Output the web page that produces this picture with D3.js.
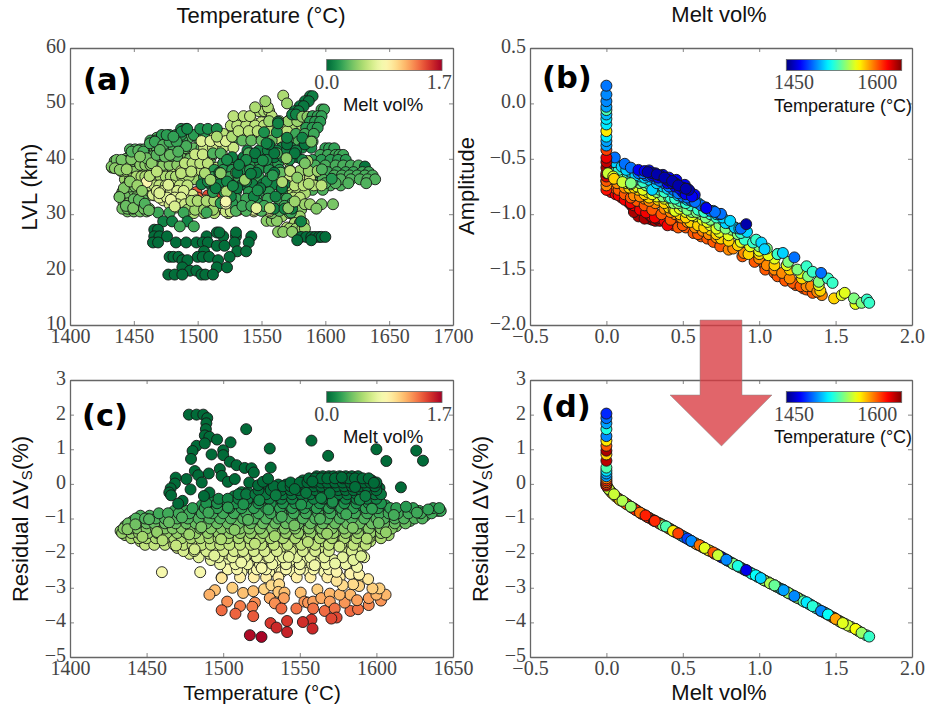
<!DOCTYPE html>
<html>
<head>
<meta charset="utf-8">
<script src="https://cdn.jsdelivr.net/npm/d3@7"></script>
<style>
  html, body { margin: 0; padding: 0; background: #fff; }
  svg { display: block; }
</style>
</head>
<body>
<div id="chart"></div>
<script>
// Panel (a): [melt, LVL, temperatures read along that level]
const lvlRedRows = [
  [1.3, 36.2, [1490]], [1.45, 34, [1499]], [1.5, 33.4, [1508, 1514]], [1.4, 33, [1500]], [1.35, 31, [1518]], [1.6, 30.8, [1532]]
];
const lvlFillRows = [
  [.42, 41, [1452, 1456, 1460, 1467, 1471, 1476, 1482, 1487, 1493, 1499, 1505]],
  [.35, 41.9, [1462, 1468, 1476, 1483, 1490, 1497, 1503, 1511]],
  [.3, 43.8, [1468, 1475, 1481, 1493, 1500, 1510, 1520, 1530]],
  [.38, 40, [1444, 1448, 1456, 1462, 1470, 1477, 1482, 1488, 1494, 1502, 1510]],
  [.45, 39.2, [1445, 1449, 1457, 1464, 1470, 1476, 1481, 1487]],
  [.5, 36.3, [1443, 1447, 1450, 1458, 1464, 1469, 1474, 1482, 1490, 1498]],
  [.42, 34, [1441, 1446, 1450, 1455, 1459, 1463]],
  [.4, 33.4, [1447, 1453, 1458, 1461, 1466, 1472]],
  [.38, 30.5, [1445, 1450, 1455, 1460]],
  [.7, 33.5, [1465, 1471, 1477, 1483, 1490, 1496]],
  [.75, 32.5, [1473, 1480, 1486, 1492, 1499, 1506]],
  [.6, 31.2, [1483, 1488, 1495, 1502, 1508, 1516]],
  [.55, 30.2, [1490, 1497, 1505, 1513, 1524]],
  [.6, 38.4, [1480, 1495, 1505, 1515]],
  [.65, 42, [1505, 1512, 1520, 1528]],
  [.6, 44.5, [1510, 1520, 1528, 1540, 1550]],
  [.62, 46.6, [1533, 1543, 1550, 1560]],
  [.55, 48.6, [1548, 1552, 1556]],
  [.6, 43.7, [1542, 1552, 1562, 1572]],
  [.55, 45.8, [1560, 1568, 1574, 1582]],
  [.5, 47, [1572, 1580]],
  [.25, 36.8, [1590, 1596, 1603, 1610]],
  [.3, 35.2, [1592, 1604, 1612]],
  [.3, 34.4, [1590, 1598]],
  [.55, 33.8, [1572, 1578, 1584]],
  [.6, 33, [1575, 1580]],
  [.45, 30.8, [1577, 1581]],
  [.5, 29.6, [1560, 1566, 1576, 1580]],
  [.6, 27.6, [1570, 1575, 1580]]
];
const lvlRows = [
  [.5, 37.8, [1440, 1444, 1448, 1452, 1456, 1460, 1464, 1468, 1472]],
  [.45, 38.4, [1433, 1436, 1441, 1446, 1451]],
  [.4, 39.6, [1435, 1438, 1441, 1444, 1447, 1450, 1453]],
  [.45, 38.9, [1455, 1459, 1463, 1467, 1473, 1478, 1484]],
  [.3, 41.7, [1447, 1451, 1455, 1458]],
  [.32, 40.5, [1461, 1465, 1469, 1473, 1479, 1484]],
  [.25, 43.3, [1463, 1467, 1472, 1478, 1483, 1488]],
  [.28, 42.3, [1470, 1475, 1481, 1486, 1491]],
  [.2, 44.3, [1472, 1478, 1483, 1487, 1497, 1505]],
  [.15, 45.4, [1487, 1491, 1502, 1508, 1515]],
  [.38, 33.2, [1439, 1443]],
  [.4, 35, [1444, 1447, 1451]],
  [.42, 32, [1442, 1446, 1451, 1456]],
  [.38, 31, [1441, 1445, 1449, 1458, 1462]],
  [.35, 32.7, [1450, 1457]],
  [.55, 36.8, [1452, 1456, 1459, 1463, 1467, 1471, 1475, 1479, 1483, 1488, 1493]],
  [.62, 35.2, [1462, 1466, 1470, 1475, 1480, 1486, 1492]],
  [.7, 34.2, [1468, 1473, 1479, 1484, 1489]],
  [.72, 33, [1470, 1476, 1482, 1487]],
  [.65, 31.8, [1478, 1484, 1490]],
  [.5, 30.8, [1492, 1498, 1505, 1512]],
  [.55, 32.4, [1495, 1500, 1507, 1513, 1520]],
  [.9, 35.8, [1460]],
  [.6, 37.8, [1487, 1492, 1497, 1503, 1510]],
  [.6, 39.2, [1490, 1496, 1502, 1508]],
  [.65, 40.8, [1498, 1504, 1512, 1519]],
  [.72, 43.2, [1503, 1510, 1517, 1522]],
  [.55, 44, [1515, 1527, 1535]],
  [.6, 46, [1526, 1531, 1538, 1545, 1552]],
  [.6, 47.7, [1528, 1536, 1541, 1558]],
  [.55, 49.3, [1545, 1555]],
  [.5, 50.4, [1553]],
  [.6, 45, [1532, 1540, 1547, 1556, 1563, 1570]],
  [.5, 46.8, [1556, 1564, 1571, 1578]],
  [.55, 51.4, [1567]],
  [.5, 50, [1570]],
  [.08, 51.3, [1588, 1590]],
  [.05, 50.4, [1584, 1587]],
  [.06, 49.5, [1580, 1583]],
  [.08, 48.6, [1576, 1579]],
  [.1, 48, [1574, 1577]],
  [.45, 47.6, [1582, 1586, 1590]],
  [.25, 48.9, [1597, 1599]],
  [.22, 47.7, [1590, 1594, 1597]],
  [.2, 46.7, [1588, 1592, 1596]],
  [.2, 45.6, [1585, 1590, 1594]],
  [.25, 44.5, [1577, 1584, 1591]],
  [.3, 43.1, [1572, 1579, 1587, 1590]],
  [.15, 42, [1566, 1573, 1582, 1589]],
  [.22, 41.9, [1600, 1603, 1607]],
  [.25, 40.7, [1596, 1602, 1608, 1611, 1614]],
  [.2, 39.8, [1590, 1597, 1604, 1610, 1616]],
  [.28, 38.8, [1592, 1600, 1608, 1614, 1620, 1626]],
  [.05, 38.6, [1631]],
  [.25, 37.6, [1594, 1602, 1609, 1616, 1622, 1629, 1634]],
  [.28, 37, [1607, 1613, 1619, 1625, 1631, 1637]],
  [.3, 36.3, [1598, 1605, 1612, 1620, 1627, 1633, 1639]],
  [.3, 35.6, [1600, 1608, 1618, 1632]],
  [.65, 36.5, [1560, 1566, 1572, 1580, 1588]],
  [.6, 35.2, [1570, 1576, 1583, 1591, 1597]],
  [.5, 37.8, [1580, 1587, 1594]],
  [.5, 31.8, [1584, 1588]],
  [.4, 31.8, [1597, 1606]],
  [.42, 31, [1593]],
  [.55, 28.4, [1576, 1580, 1583]],
  [.5, 27.4, [1572, 1577, 1582, 1584]],
  [.45, 26.8, [1563, 1567, 1574]],
  [.45, 28.8, [1554, 1558, 1562]],
  [.4, 30.2, [1558, 1572]],
  [.65, 30.5, [1522, 1526, 1544, 1556]],
  [.2, 39.2, [1520, 1526, 1533, 1541, 1549, 1556, 1563]],
  [.08, 40.3, [1527, 1536, 1545, 1552, 1560, 1567, 1578]],
  [.18, 38, [1513, 1520, 1527, 1534, 1541, 1548, 1556, 1564, 1572]],
  [.24, 36.7, [1505, 1512, 1518, 1525, 1532, 1540, 1548, 1557]],
  [.1, 35.4, [1503, 1510, 1517, 1526, 1535, 1543, 1551, 1560, 1568]],
  [.2, 34, [1512, 1521, 1530, 1540, 1548, 1556, 1566]],
  [.25, 32.8, [1530, 1538, 1546, 1555, 1563, 1570]],
  [.1, 41.5, [1539, 1548, 1555, 1562, 1570, 1577]],
  [.3, 41, [1512, 1518, 1540, 1562]],
  [.35, 43.3, [1535, 1542, 1550, 1558]],
  [.2, 32, [1518, 1527, 1547, 1574]],
  [.15, 44.8, [1552, 1562]],
  [.12, 46.7, [1563]],
  [.35, 37.5, [1530, 1565]],
  [.55, 39.6, [1571, 1586]],
  [.85, 31.9, [1522]],
  [.75, 30.8, [1544, 1556]],
  [.25, 30.3, [1469, 1478, 1489, 1507, 1573]],
  [.1, 28.7, [1473, 1480, 1492, 1581]],
  [.25, 27.8, [1486, 1497]],
  [.02, 27.2, [1466, 1469]],
  [.02, 26, [1466, 1470, 1476, 1507, 1520, 1530, 1542]],
  [.02, 26.7, [1515, 1517, 1530]],
  [.02, 24.9, [1465, 1469, 1483, 1491, 1499, 1504, 1508, 1529, 1540]],
  [.02, 24.3, [1515, 1521]],
  [.03, 23.3, [1505, 1531, 1538]],
  [.02, 22.3, [1478, 1481, 1485, 1500, 1504, 1509, 1525]],
  [.02, 21.7, [1488, 1492, 1516]],
  [.02, 20.4, [1488, 1515, 1523]],
  [.02, 19.8, [1494, 1499]],
  [.02, 19.1, [1477, 1482, 1488, 1503, 1506, 1512]],
  [.02, 25.9, [1581, 1585, 1589, 1592, 1595, 1597, 1600]],
  [.02, 25.3, [1578, 1589]]
];
const lvlTopRows = [
  [.14, 39.8, [1523, 1538, 1554, 1572, 1582]],
  [.06, 37.5, [1517, 1531, 1546, 1560]],
  [.12, 35.9, [1508, 1523, 1538, 1554]],
  [.08, 34.7, [1514, 1531, 1549, 1566]],
  [.1, 33.2, [1526, 1544, 1561]],
  [.06, 41, [1545, 1560, 1576]],
  [.05, 42.6, [1556, 1570, 1584]],
  [.1, 43.8, [1570, 1582]],
  [.3, 30.6, [1530, 1538, 1550, 1564]],
  [.25, 31.5, [1535, 1542, 1552, 1568]],
  [.1, 31, [1560, 1568, 1574]]
];
// single circles, drawn last: [temperature, LVL, melt]
const lvlScatter = [
  [1432.6, 38.6, .42], [1436.5, 39.8, .38], [1440.4, 39.8, .4], [1435.2, 38.3, .45], [1439, 38, .45], [1444.4, 38.1, .5], [1448, 39.9, .42], [1448.3, 41.3, .3],
  [1453.5, 41.5, .32], [1457.4, 41.3, .28], [1460, 40.1, .38], [1464, 39.2, .45], [1454.8, 40.4, .42], [1467.8, 40.7, .32], [1474.4, 40.4, .35], [1462.6, 42.8, .26],
  [1466.5, 43.1, .24], [1473, 42.5, .3], [1478, 43.1, .26], [1483.5, 43.1, .24], [1487.4, 44.9, .14], [1491.8, 45.4, .12], [1475.7, 44.3, .2], [1481, 44, .22],
  [1470.4, 41.6, .32], [1478.3, 40.7, .36], [1484.8, 41.3, .3], [1442.2, 34.7, .42], [1438.7, 33.1, .38], [1443.8, 31.5, .36], [1449.5, 31.1, .4], [1454, 32.6, .34],
  [1458.6, 31.9, .3], [1461.8, 30.7, .36], [1447, 35.9, .45], [1452.8, 35.2, .5], [1456.4, 34.2, .45], [1462.3, 36.9, .58], [1468, 37.7, .6], [1477, 35.3, .72],
  [1470, 33.8, .72], [1479, 32.6, .78], [1482, 31.4, .7], [1487, 37.4, .6], [1495, 37.7, .6], [1505.7, 37.4, .55], [1510, 36.2, .5], [1518, 37.4, .45],
  [1522.6, 34.1, .55], [1537, 36.2, .5], [1546, 31.1, .75], [1556.5, 31.1, .6], [1522, 32.3, .85], [1571, 31.1, .45], [1576, 32.3, .5], [1584, 39.2, .4],
  [1569.6, 40.1, .45], [1589, 43.1, .4], [1563, 46.4, .1], [1554, 42.8, .1], [1532.4, 38.9, .1], [1541.7, 37.3, .08], [1551, 39.7, .14], [1527.6, 35.1, .12],
  [1558.8, 37, .2], [1566.2, 35.8, .55], [1547, 34.3, .14], [1572.4, 37.8, .6], [1578, 36.6, .45], [1587, 35.5, .55], [1597.3, 38.1, .3], [1605, 36.4, .18]
];

// Panel (c): [melt, residual, temperatures read along that level]
const dvsRows = [
  [.82, -2.4, [1506, 1516, 1525, 1534, 1543, 1552, 1561, 1587]],
  [.85, -2.55, [1460, 1485, 1512, 1520, 1530, 1538, 1546, 1556, 1566, 1574, 1583]],
  [.95, -2.7, [1499, 1511, 1520, 1528, 1536, 1548, 1557, 1568, 1576, 1589]],
  [.78, -2.2, [1492, 1502, 1510, 1518, 1526, 1535, 1544, 1553, 1562, 1572, 1585]],
  [.72, -2.02, [1478, 1484, 1491, 1497, 1503, 1509, 1516, 1523, 1531, 1540, 1549, 1556, 1564, 1590]],
  [.66, -1.85, [1470, 1476, 1481, 1487, 1494, 1500, 1507, 1514, 1521, 1529, 1538, 1546, 1555, 1563, 1580, 1588]],
  [.58, -1.66, [1446, 1452, 1458, 1464, 1470, 1476, 1482, 1488, 1494, 1500, 1506, 1513, 1519, 1526, 1533, 1541, 1549, 1557, 1565, 1573, 1581, 1589, 1596]],
  [.5, -1.48, [1436, 1441, 1447, 1453, 1459, 1465, 1471, 1477, 1483, 1489, 1496, 1502, 1509, 1516, 1523, 1530, 1538, 1546, 1554, 1562, 1569, 1576, 1584, 1592, 1600, 1608]],
  [.46, -1.36, [1433, 1438, 1443, 1449, 1454, 1461, 1468, 1474, 1480, 1487, 1493, 1500, 1507, 1514, 1521, 1529, 1537, 1545, 1553, 1560, 1568, 1575, 1583, 1591, 1599, 1605]],
  [.4, -1.22, [1436, 1441, 1446, 1452, 1458, 1464, 1470, 1476, 1483, 1490, 1497, 1504, 1512, 1519, 1527, 1535, 1543, 1551, 1559, 1567, 1574, 1582, 1590, 1598, 1606, 1613]],
  [.33, -1.07, [1441, 1447, 1453, 1459, 1465, 1472, 1479, 1486, 1493, 1500, 1507, 1515, 1522, 1530, 1538, 1546, 1554, 1562, 1570, 1578, 1586, 1594, 1602, 1609, 1617, 1622]],
  [.28, -.92, [1446, 1452, 1459, 1466, 1473, 1480, 1488, 1495, 1503, 1511, 1519, 1527, 1535, 1543, 1551, 1559, 1567, 1575, 1583, 1591, 1599, 1607, 1615, 1620, 1627, 1632]],
  [.24, -.78, [1468, 1476, 1484, 1492, 1500, 1508, 1516, 1524, 1532, 1540, 1548, 1556, 1564, 1572, 1580, 1588, 1596, 1604, 1610, 1616, 1622, 1628, 1634, 1640, 1642]],
  [.18, -.62, [1486, 1494, 1502, 1510, 1518, 1526, 1534, 1542, 1550, 1558, 1566, 1574, 1582, 1590, 1598, 1606]],
  [.14, -.5, [1493, 1499, 1505, 1512, 1520, 1528, 1536, 1544, 1552, 1560, 1568, 1576, 1584, 1592, 1600]],
  [.08, -.36, [1507, 1513, 1518, 1526, 1533, 1541, 1548, 1555, 1562, 1569, 1576, 1583, 1590, 1597, 1602]],
  [.05, -.24, [1512, 1516, 1523, 1529, 1536, 1542, 1548, 1554, 1560, 1566, 1572, 1578, 1584, 1590, 1596, 1601]],
  [.02, -.12, [1528, 1535, 1541, 1547, 1552, 1557, 1562, 1567, 1572, 1577, 1582, 1587, 1592, 1597, 1602]],
  [.01, -.02, [1536, 1541, 1546, 1551, 1556, 1561, 1566, 1571, 1576, 1581, 1586, 1591, 1596, 1600]],
  [.01, .1, [1552, 1557, 1562, 1566, 1570, 1575, 1580, 1584, 1588, 1593, 1597]],
  [.01, .22, [1561, 1565, 1569, 1572, 1576, 1580, 1584, 1588]],
  [.86, -2.47, [1503, 1509, 1522, 1528, 1541, 1550, 1559, 1569]],
  [.8, -2.32, [1498, 1508, 1516, 1524, 1532, 1541, 1550, 1558, 1567, 1580]],
  [.75, -2.12, [1484, 1497, 1506, 1514, 1522, 1530, 1539, 1548, 1557, 1566, 1578, 1592]],
  [.7, -1.94, [1474, 1481, 1489, 1500, 1507, 1513, 1520, 1527, 1535, 1544, 1552, 1560, 1569, 1584]],
  [.62, -1.76, [1449, 1455, 1462, 1468, 1474, 1480, 1486, 1492, 1498, 1504, 1511, 1518, 1525, 1533, 1542, 1551, 1560, 1569, 1577, 1585, 1593]],
  [.55, -1.57, [1440, 1445, 1450, 1456, 1462, 1468, 1473, 1479, 1485, 1491, 1497, 1503, 1510, 1517, 1524, 1531, 1539, 1547, 1555, 1563, 1571, 1579, 1587, 1595, 1603]],
  [.48, -1.42, [1434, 1440, 1445, 1451, 1457, 1463, 1470, 1476, 1482, 1490, 1497, 1504, 1511, 1518, 1526, 1534, 1541, 1549, 1557, 1565, 1572, 1580, 1588, 1596, 1603]],
  [.43, -1.29, [1435, 1439, 1444, 1450, 1456, 1462, 1467, 1473, 1479, 1485, 1492, 1499, 1505, 1511, 1517, 1524, 1532, 1540, 1547, 1556, 1564, 1571, 1579, 1587, 1595, 1603, 1610]],
  [.36, -1.14, [1438, 1444, 1450, 1455, 1462, 1469, 1476, 1482, 1489, 1496, 1503, 1510, 1518, 1526, 1534, 1541, 1549, 1557, 1565, 1573, 1581, 1589, 1597, 1605, 1612, 1619]],
  [.3, -1, [1443, 1449, 1456, 1462, 1470, 1477, 1484, 1491, 1498, 1505, 1513, 1520, 1528, 1536, 1544, 1552, 1560, 1568, 1576, 1584, 1592, 1600, 1605, 1612, 1618, 1625, 1630]],
  [.26, -.85, [1458, 1464, 1471, 1478, 1486, 1493, 1500, 1507, 1515, 1523, 1531, 1538, 1546, 1554, 1562, 1570, 1578, 1586, 1594, 1602, 1608, 1614, 1621, 1629, 1636]],
  [.21, -.7, [1480, 1488, 1496, 1504, 1512, 1520, 1528, 1537, 1545, 1553, 1561, 1569, 1577, 1585, 1593, 1601, 1609, 1613, 1624, 1637, 1641]],
  [.16, -.56, [1489, 1496, 1503, 1508, 1515, 1523, 1531, 1539, 1547, 1555, 1563, 1571, 1579, 1587, 1595, 1603]],
  [.1, -.43, [1497, 1503, 1510, 1516, 1523, 1530, 1538, 1545, 1552, 1559, 1565, 1572, 1580, 1587, 1594, 1600]],
  [.06, -.3, [1510, 1515, 1521, 1528, 1534, 1539, 1545, 1551, 1557, 1563, 1569, 1575, 1581, 1587, 1593, 1599, 1603]],
  [.03, -.18, [1523, 1531, 1538, 1544, 1549, 1555, 1560, 1565, 1570, 1575, 1580, 1585, 1590, 1595, 1600]],
  [.02, -.07, [1533, 1539, 1544, 1549, 1554, 1559, 1564, 1569, 1574, 1579, 1584, 1589, 1594, 1599]],
  [.01, .04, [1544, 1550, 1555, 1559, 1564, 1568, 1573, 1578, 1583, 1587, 1592, 1596, 1600]],
  [.01, .16, [1556, 1560, 1564, 1568, 1573, 1578, 1582, 1586, 1591, 1595]]
];
const dvsScatter = [
  [1437.5, -1.31, .44], [1442.7, -1.17, .38], [1447.3, -1.53, .52], [1451.6, -1.02, .31], [1456.8, -1.39, .47], [1460.4, -1.63, .57], [1464.6, -1.11, .35], [1469.2, -1.78, .63],
  [1473.1, -.97, .29], [1477.8, -1.46, .5], [1481.3, -1.89, .68], [1485.7, -1.25, .41], [1490.4, -.83, .25], [1494.2, -2.07, .74], [1498.6, -1.6, .55], [1503.1, -.68, .2],
  [1507.4, -1.33, .44], [1511.8, -2.27, .8], [1516.2, -1.04, .31], [1520.7, -1.73, .61], [1525.1, -2.43, .84], [1529.5, -.74, .22], [1533.6, -1.51, .52], [1538.2, -.95, .28],
  [1542.8, -2.11, .75], [1546.4, -1.2, .39], [1550.9, -.6, .17], [1555.3, -1.68, .59], [1559.7, -2.35, .81], [1563.2, -1.01, .3], [1567.8, -1.44, .49], [1571.4, -.52, .15],
  [1575.9, -1.81, .65], [1580.3, -.88, .26], [1584.6, -1.27, .42], [1589.2, -.46, .12], [1593.7, -1.58, .55], [1597.1, -.72, .21], [1601.5, -1.13, .35], [1606.2, -1.4, .47],
  [1611.4, -.9, .27], [1619.3, -.66, .19], [1626.5, -.83, .25], [1633.8, -.74, .22], [1534.3, -.33, .07], [1546.7, -.15, .03], [1558.2, .07, .01], [1569.5, -.27, .05],
  [1577.4, .19, .01], [1586.1, -.09, .02], [1592.8, -.35, .07], [1598.4, .03, .01], [1563.9, -.41, .1], [1554.1, -.26, .05], [1523.6, -.47, .12], [1513.2, -.59, .16]
];
const dvsLowPoints = [
  [1.0, 1499, -2.72], [1.15, 1494.6, -3.07], [1.2, 1491, -3.2], [1.1, 1506, -3], [1.15, 1513, -3.15], [1.15, 1519.6, -3.1],
  [1.08, 1526.7, -3.04], [1.05, 1531.5, -2.93], [1.05, 1536.5, -2.9], [1.12, 1536, -3.12], [1.15, 1540, -3.14], [1.25, 1539.6, -3.3],
  [1.22, 1530.4, -3.3], [1.3, 1533.7, -3.45], [1.4, 1538, -3.6], [1.3, 1520.7, -3.43], [1.35, 1519, -3.55], [1.35, 1511, -3.53],
  [1.3, 1502.6, -3.4], [1.4, 1499, -3.65], [1.42, 1508, -3.75], [1.45, 1519.6, -3.82], [1.38, 1547.8, -3.6], [1.15, 1550.6, -3.14],
  [1.1, 1561.5, -3.05], [1.28, 1553, -3.4], [1.28, 1555.4, -3.43], [1.25, 1558.7, -3.4], [1.38, 1558.7, -3.6], [1.4, 1566.3, -3.67],
  [1.22, 1564, -3.3], [1.18, 1569.6, -3.17], [1.25, 1569.6, -3.4], [1.38, 1572.8, -3.6], [1.5, 1574, -3.86], [1.5, 1570.6, -3.89],
  [1.55, 1557.6, -3.92], [1.58, 1552, -3.99], [1.6, 1558.3, -4.18], [1.55, 1541.7, -3.96], [1.55, 1530.9, -4.02], [1.6, 1534.8, -4.15],
  [1.62, 1541.7, -4.28], [1.7, 1517.4, -4.37], [1.73, 1525, -4.42], [1.4, 1583, -3.67], [1.38, 1588, -3.62], [1.28, 1579.3, -3.43],
  [1.18, 1583, -3.2], [1.25, 1587.4, -3.36], [1.18, 1576, -3.2], [1.32, 1595, -3.5], [1.25, 1595, -3.3], [1.28, 1603, -3.37],
  [1.18, 1606, -3.2], [1.18, 1600, -3.2], [1.1, 1602, -3.02], [1.1, 1597.4, -3.02], [.98, 1594.6, -2.75], [1.08, 1588.7, -2.95],
  [1.05, 1584.8, -2.9], [1.05, 1578, -2.93], [1.0, 1574, -2.8], [.9, 1574, -2.54], [.92, 1583, -2.6], [.92, 1588.7, -2.62],
  [.82, 1587.4, -2.4], [.78, 1573, -2.3], [.75, 1585, -2.2], [.72, 1590, -2.09]
];
const dvsTopPoints = [
  [1477.6, 2.0], [1482.6, 2.0], [1487, 2.0], [1489.6, 1.9], [1489, 1.75], [1488.7, 1.58], [1488, 1.4], [1491, 1.36], [1496, 1.28],
  [1504.8, 1.2], [1515, 1.58], [1557.6, 1.25], [1530.4, 1.02], [1568.5, .81], [1600, 1.0], [1606.5, .66], [1626, .96], [1630.4, .67],
  [1616, -.1], [1531, .47], [1482.6, 1.1], [1480, .95], [1479, .72], [1488, 1.17], [1492.4, .85], [1500, .97], [1500, .83],
  [1504.3, .64], [1508.7, .54], [1514, .46], [1518.5, .45], [1520, .33], [1497.8, .43], [1499, .23], [1490.6, .3], [1481.5, .37],
  [1483.7, .25], [1486, .04], [1503, .06], [1507.6, .14], [1517, .04], [1476, .14], [1469, .18], [1468.5, .01], [1465.7, -.13],
  [1464.8, -.25], [1466, -.33], [1478.7, -.16], [1491, -.25], [1487.4, -.35], [1473.5, -.49], [1470.6, -.57], [1522.8, -.04],
  [1526, .06], [1529.3, .15]
];

// Panel (b): [temperature, melt/amplitude pairs]
const ampLayers = [
  [1635, [[.2, -.98], [.22, -1], [.24, -1.02], [.26, -1.03], [.28, -1.04], [.3, -1.05], [.19, -.96], [.17, -.93], [.15, -.9], [.23, -.97], [.32, -1.06], [.35, -1.06], [.27, -.99], [.21, -1.02], [.25, -1.04], [.29, -1.02], [.33, -1.04], [.18, -.98]]],
  [1620, [[.01, -.78], [.03, -.8], [.06, -.82], [.1, -.85], [.14, -.88], [.18, -.92], [.22, -.96], [.3, -1.02], [.34, -1.03], [.38, -1.06], [.42, -1.08], [.44, -1.1], [.26, -.985], [.317, -1.03], [.08, -.83], [.12, -.87], [.16, -.9], [.4, -1.1]]],
  [1600, [[0, -.7], [.02, -.72], [.05, -.76], [.08, -.78], [.12, -.82], [.2, -.88], [.25, -.92], [.3, -.96], [.36, -1], [.42, -1.05], [.47, -1.12], [.52, -1.12], [.57, -1.17], [.62, -1.2], [.66, -1.22], [.7, -1.25], [.745, -1.29], [.89, -1.38], [.97, -1.43], [1.035, -1.46], [1.04, -1.5], [1.1, -1.53], [1.12, -1.56], [1.17, -1.6], [1.24, -1.64], [1.29, -1.67], [1.31, -1.68], [1.35, -1.71], [.5, -1.1], [.6, -1.18], [.16, -.85], [1.22, -1.62], [1.27, -1.65]]],
  [1590, [[.03, -.68], [.07, -.72], [.12, -.76], [.18, -.83], [.25, -.86], [.32, -.9], [.38, -.95], [.45, -1], [.53, -1.07], [.58, -1.12], [.63, -1.15], [.8, -1.32], [.83, -1.31], [.9, -1.35], [1, -1.4], [1.05, -1.46], [1.1, -1.5], [1.15, -1.53], [1.2, -1.58], [1.31, -1.65], [1.34, -1.65], [1.41, -1.73], [.22, -.84], [.28, -.88], [.42, -.98], [.49, -1.03], [.67, -1.18], [.72, -1.21], [1.38, -1.7]]],
  [1575, [[0, -.65], [.04, -.68], [.1, -.7], [.15, -.76], [.21, -.78], [.28, -.85], [.34, -.87], [.41, -.94], [.48, -1], [.55, -1.07], [.6, -1.1], [.68, -1.14], [.75, -1.22], [.86, -1.28], [.93, -1.36], [1, -1.36], [1.1, -1.46], [1.2, -1.5], [1.28, -1.58], [1.4, -1.69], [1.49, -1.76], [.18, -.76], [.25, -.82], [.38, -.9], [.44, -.96], [.52, -1.03], [.64, -1.12], [.72, -1.18], [.8, -1.24]]],
  [1560, [[.01, -.64], [.05, -.66], [.09, -.68], [.13, -.72], [.2, -.75], [.27, -.8], [.33, -.84], [.42, -.89], [.45, -.97], [.52, -.98], [.58, -1.02], [.63, -1.05], [.68, -1.1], [.74, -1.16], [.8, -1.19], [.88, -1.25], [1, -1.33], [1.1, -1.4], [1.18, -1.46], [1.27, -1.53], [1.39, -1.64], [1.54, -1.73], [1.56, -1.71], [1.63, -1.81], [.16, -.73], [.24, -.78], [.3, -.82], [.38, -.86], [.48, -.95], [.56, -1.01], [.66, -1.07], [.72, -1.13], [.94, -1.29], [1.06, -1.37]]],
  [1540, [[.04, -.6], [.1, -.66], [.15, -.68], [.22, -.72], [.3, -.78], [.37, -.84], [.44, -.9], [.5, -.93], [.56, -.98], [.62, -1], [.68, -1.05], [.74, -1.1], [.82, -1.14], [.9, -1.2], [1, -1.29], [1.05, -1.31], [1.12, -1.36], [1.19, -1.43], [1.25, -1.5], [1.32, -1.56], [1.39, -1.61], [1.62, -1.76], [1.67, -1.8], [.18, -.7], [.26, -.74], [.33, -.8], [.41, -.85], [.47, -.9], [.53, -.96], [.59, -.98], [.65, -1.03], [.78, -1.13], [.86, -1.18]]],
  [1525, [[.03, -.57], [.08, -.6], [.14, -.64], [.2, -.68], [.28, -.73], [.35, -.78], [.42, -.85], [.48, -.88], [.55, -.92], [.6, -.96], [.68, -1], [.76, -1.05], [.84, -1.12], [.905, -1.23], [.96, -1.256], [1.12, -1.36], [1.31, -1.47], [1.35, -1.52], [1.45, -1.58], [1.48, -1.62], [1.705, -1.77], [1.72, -1.8], [.17, -.66], [.24, -.71], [.32, -.75], [.38, -.8], [.45, -.86], [.52, -.9], [.64, -.98], [.72, -1.03], [.8, -1.08], [.88, -1.17], [.98, -1.23]]],
  [1505, [[.05, -.53], [.1, -.57], [.16, -.62], [.22, -.66], [.28, -.69], [.3, -.78], [.37, -.75], [.43, -.8], [.5, -.85], [.56, -.88], [.6, -.9], [.65, -.94], [.72, -1], [.78, -1.08], [.84, -1.12], [.92, -1.16], [1.014, -1.256], [1.035, -1.316], [1.155, -1.35], [.13, -.6], [.19, -.65], [.25, -.67], [.33, -.72], [.4, -.77], [.47, -.83], [.53, -.87], [.7, -.97], [.76, -1.03], [.81, -1.06], [.87, -1.13]]],
  [1485, [[.055, -.488], [.12, -.545], [.16, -.58], [.21, -.63], [.26, -.65], [.32, -.68], [.38, -.72], [.44, -.78], [.5, -.84], [.55, -.87], [.62, -.92], [.68, -.97], [.74, -1], [.75, -.997], [.88, -1.13], [1.23, -1.39], [1.405, -1.53], [.24, -.63], [.29, -.66], [.35, -.7], [.41, -.75], [.47, -.81], [.53, -.85], [.58, -.89], [.65, -.94], [.71, -.98]]],
  [1460, [[.21, -.6], [.25, -.61], [.28, -.605], [.32, -.63], [.37, -.645], [.41, -.67], [.458, -.69], [.513, -.735], [.53, -.77], [.55, -.8], [.578, -.825], [.45, -.75], [.5, -.8], [.654, -.945], [.4, -.72], [.3, -.65], [.34, -.67], [.43, -.72], [.48, -.77], [.52, -.82], [.56, -.84]]],
  [1445, [[.3, -.63], [.35, -.65], [.4, -.69], [.45, -.72], [.5, -.76], [.54, -.78], [.27, -.62], [.33, -.64], [.38, -.67], [.43, -.7], [.47, -.74], [.52, -.77], [.915, -1.09]]]
];
const ampStack = [
  [-.78, 1615], [-.74, 1590], [-.7, 1600], [-.66, 1625], [-.63, 1630], [-.58, 1635], [-.53, 1630], [-.49, 1622], [-.42, 1605], [-.38, 1495], [-.34, 1495], [-.3, 1510],
  [-.25, 1570], [-.19, 1510], [-.14, 1510], [-.1, 1500], [-.06, 1530], [-.03, 1495], [.02, 1490], [.08, 1490], [.16, 1486]
];
const ampStackTop = [[.01, -.63, 1555], [.045, -.66, 1560], [.05, -.68, 1575], [.105, -.71, 1555], [.16, -.72, 1540]];

const curveBack = [
  [0, -.02, 1620], [.005, -.08, 1600], [.01, -.12, 1560], [.02, -.18, 1590], [.03, -.23, 1540], [.04, -.28, 1580], [.06, -.36, 1560], [.08, -.43, 1600],
  [.1, -.49, 1550], [.12, -.54, 1580], [.14, -.6, 1560], [.16, -.66, 1610], [.18, -.71, 1590], [.2, -.77, 1540], [.22, -.83, 1600], [.24, -.88, 1560],
  [.26, -.93, 1580], [.28, -.98, 1545], [.3, -1.03, 1590], [.32, -1.08, 1530], [.34, -1.12, 1590], [.36, -1.17, 1530], [.38, -1.21, 1525], [.4, -1.26, 1560],
  [.42, -1.31, 1525], [.44, -1.36, 1570], [.46, -1.41, 1530], [.48, -1.46, 1490], [.5, -1.51, 1480], [.52, -1.56, 1470], [.54, -1.61, 1500], [.56, -1.66, 1490],
  [.58, -1.71, 1560], [.6, -1.76, 1520], [.62, -1.8, 1560], [.64, -1.85, 1575], [.66, -1.9, 1540], [.68, -1.94, 1560], [.7, -1.99, 1590], [.72, -2.03, 1560],
  [.74, -2.08, 1470], [.76, -2.13, 1480], [.78, -2.18, 1490], [.8, -2.23, 1530], [.82, -2.28, 1520], [.84, -2.33, 1530], [.86, -2.37, 1510], [.88, -2.42, 1500],
  [.9, -2.47, 1470], [.92, -2.51, 1500], [.94, -2.56, 1510], [.96, -2.61, 1515], [.98, -2.65, 1510], [1, -2.7, 1530], [1.02, -2.75, 1530], [1.04, -2.8, 1540],
  [1.06, -2.84, 1540], [1.08, -2.89, 1530], [1.1, -2.93, 1545], [1.12, -2.98, 1530], [1.14, -3.03, 1520], [1.16, -3.07, 1500], [1.18, -3.12, 1530], [1.2, -3.17, 1540],
  [1.22, -3.22, 1490], [1.24, -3.27, 1530], [1.26, -3.31, 1540], [1.28, -3.36, 1520], [1.3, -3.41, 1510], [1.32, -3.45, 1520], [1.34, -3.5, 1525], [1.36, -3.55, 1530],
  [1.38, -3.6, 1510], [1.4, -3.66, 1490], [1.42, -3.7, 1510], [1.44, -3.75, 1520], [1.46, -3.8, 1530], [1.48, -3.85, 1580], [1.5, -3.9, 1585], [1.52, -3.95, 1560],
  [1.54, -4, 1550], [1.56, -4.04, 1550], [1.6, -4.13, 1560], [1.63, -4.19, 1565], [1.67, -4.3, 1545], [1.7, -4.37, 1530],
  [.09, -.47, 1570], [.13, -.58, 1600], [.17, -.69, 1620], [.19, -.75, 1610], [.23, -.86, 1620], [.27, -.96, 1610], [.31, -1.06, 1630], [.35, -1.15, 1600],
  [.37, -1.2, 1540], [.41, -1.29, 1590], [.43, -1.34, 1550], [.45, -1.39, 1600], [.49, -1.49, 1520], [.51, -1.54, 1490], [.55, -1.64, 1470], [.59, -1.74, 1590],
  [.63, -1.83, 1590], [.67, -1.92, 1570], [.71, -2.02, 1600], [.75, -2.11, 1460], [.79, -2.21, 1500], [.83, -2.31, 1540], [.87, -2.4, 1530], [.91, -2.49, 1490],
  [.95, -2.59, 1520], [.99, -2.68, 1520], [1.03, -2.78, 1545], [1.07, -2.87, 1550], [1.11, -2.96, 1540], [1.15, -3.05, 1510], [1.19, -3.15, 1545], [1.25, -3.29, 1545],
  [1.29, -3.39, 1530], [1.33, -3.48, 1510], [1.37, -3.58, 1520], [1.43, -3.72, 1500], [1.49, -3.87, 1590], [1.53, -3.98, 1555], [1.58, -4.09, 1555], [1.65, -4.25, 1550]
];
const curveFront = [
  [.016, -.15, 1555], [.05, -.3, 1555], [.105, -.49, 1550], [.16, -.66, 1545], [.22, -.83, 1595], [.256, -.91, 1612], [.317, -1.07, 1610], [.39, -1.23, 1530],
  [.436, -1.36, 1570], [.47, -1.43, 1605], [.53, -1.58, 1475], [.556, -1.65, 1490], [.61, -1.77, 1595], [.643, -1.85, 1560], [.7, -1.98, 1600], [.73, -2.06, 1555],
  [.785, -2.19, 1490], [.86, -2.37, 1520], [.915, -2.49, 1458], [.977, -2.64, 1515], [1.01, -2.72, 1505], [1.1, -2.93, 1535], [1.16, -3.07, 1495], [1.23, -3.24, 1490],
  [1.31, -3.42, 1510], [1.35, -3.53, 1522], [1.405, -3.67, 1490], [1.45, -3.77, 1515], [1.5, -3.9, 1585], [1.547, -4.02, 1560], [1.63, -4.19, 1565], [1.67, -4.3, 1545], [1.72, -4.41, 1525]
];
const dvsStack = [
  [-.05, 1620], [0, 1605], [.05, 1600], [.1, 1610], [.16, 1590], [.22, 1495], [.3, 1495], [.38, 1510], [.47, 1530], [.67, 1632], [.85, 1575], [.96, 1635],
  [1.1, 1600], [1.25, 1570], [1.38, 1490], [1.58, 1520], [1.75, 1495], [1.9, 1485], [2.03, 1470]
];

const frameXTemp300 = [1400, 1450, 1500, 1550, 1600, 1650, 1700];
const frameXTemp250 = [1400, 1450, 1500, 1550, 1600, 1650];
const frameXMelt = [-0.5, 0, 0.5, 1, 1.5, 2];
const lvlTicks = [10, 20, 30, 40, 50, 60];
const ampTicks = [-2, -1.5, -1, -0.5, 0, 0.5];
const dvsTicks = [-5, -4, -3, -2, -1, 0, 1, 2, 3];
const meltBarTicks = [0, 1.7];
const tempBarTicks = [1450, 1600];

const unrow = rows => rows.flatMap(([melt, y, temps]) => temps.map(t => ({ x: t, y, c: melt })));
const panelAPoints = unrow(lvlRedRows).concat(unrow(lvlFillRows), unrow(lvlRows), unrow(lvlTopRows))
  .concat(lvlScatter.map(([t, l, m]) => ({ x: t, y: l, c: m })));
const panelBPoints = ampLayers.flatMap(([temp, pairs]) => pairs.map(p => ({ x: p[0], y: p[1], c: temp })))
  .concat(ampStack.map(([amp, temp]) => ({ x: 0, y: amp, c: temp })))
  .concat(ampStackTop.map(([m, amp, temp]) => ({ x: m, y: amp, c: temp })));
const panelCPoints = unrow(dvsRows)
  .concat(dvsScatter.map(([t, r, m]) => ({ x: t, y: r, c: m })))
  .concat(dvsLowPoints.map(([melt, t, r]) => ({ x: t, y: r, c: melt })))
  .concat(dvsTopPoints.map(([t, r]) => ({ x: t, y: r, c: 0.01 })));
const panelDPoints = curveBack.concat(curveFront).map(([m, r, t]) => ({ x: m, y: r, c: t }))
  .concat(dvsStack.map(([r, t]) => ({ x: 0, y: r, c: t })));

const jet = t => {
  const band = v => Math.round(255 * Math.max(0, Math.min(1, 1.5 - Math.abs(4 * t - v))));
  return `rgb(${band(3)},${band(2)},${band(1)})`;
};
const meltDomain = [0, 1.74];
const tempDomain = [1436, 1644];
const meltColor = d3.scaleSequential(t => d3.interpolateRdYlGn(1 - t)).domain(meltDomain);
const tempColor = d3.scaleSequential(jet).domain(tempDomain);

const width = 926;
const height = 711;
const svg = d3.select("#chart").append("svg").attr("width", width).attr("height", height);

const sans = "'Liberation Sans', sans-serif";
const tagFont = "'DejaVu Sans', sans-serif";
const serif = "'Liberation Serif', serif";
const defs = svg.append("defs");
const tickColor = "#444";

function formatTick(v, digits) {
  return (v < 0 ? "\u2212" : "") + Math.abs(v).toFixed(digits);
}

function drawPanel(opts) {
  const { left, right, top, bottom, xDomain, yDomain, xTicks, yTicks, xDigits, yDigits, points, color, id } = opts;
  const x = d3.scaleLinear().domain(xDomain).range([left, right]);
  const y = d3.scaleLinear().domain(yDomain).range([bottom, top]);
  const g = svg.append("g").attr("class", id);

  g.append("g").selectAll("circle")
    .data(points)
    .join("circle")
    .attr("cx", d => x(d.x))
    .attr("cy", d => y(d.y))
    .attr("r", 5.5)
    .attr("fill", d => color(d.c))
    .attr("stroke", "#161616")
    .attr("stroke-width", 0.9);

  const axisGroups = [
    [d3.axisBottom(x).tickValues(xTicks).tickFormat(v => formatTick(v, xDigits)), `translate(0,${bottom})`],
    [d3.axisLeft(y).tickValues(yTicks).tickFormat(v => formatTick(v, yDigits)), `translate(${left},0)`],
    [d3.axisTop(x).tickValues(xTicks).tickFormat(""), `translate(0,${top})`],
    [d3.axisRight(y).tickValues(yTicks).tickFormat(""), `translate(${right},0)`]
  ];
  axisGroups.forEach(([axis, transform], i) => {
    const a = g.append("g").attr("transform", transform)
      .call(axis.tickSizeInner(-4).tickSizeOuter(0).tickPadding(4));
    a.select(".domain").attr("stroke", "#666").attr("stroke-width", 1.3);
    a.selectAll(".tick line").attr("stroke", "#666").attr("stroke-width", 0.8);
    a.selectAll("text").attr("font-family", serif).attr("font-size", 20).attr("fill", tickColor);
    if (i === 1) a.selectAll("text").attr("dy", "0.22em");
  });
  return { x, y };
}

function drawColorbar(opts) {
  const { id, left, right, top, bottom, domain, color, ticks, digits, labelY } = opts;
  const grad = defs.append("linearGradient").attr("id", id);
  d3.range(0, 1.001, 0.04).forEach(t => {
    grad.append("stop")
      .attr("offset", t)
      .attr("stop-color", color(domain[0] + t * (domain[1] - domain[0])));
  });
  svg.append("rect")
    .attr("x", left).attr("y", top)
    .attr("width", right - left).attr("height", bottom - top)
    .attr("fill", `url(#${id})`)
    .attr("stroke", "#666").attr("stroke-width", 0.8);
  const scale = d3.scaleLinear().domain(domain).range([left, right]);
  svg.append("g").selectAll("text")
    .data(ticks)
    .join("text")
    .attr("x", d => scale(d))
    .attr("y", labelY)
    .attr("text-anchor", "middle")
    .attr("font-family", serif).attr("font-size", 20).attr("fill", tickColor)
    .text(d => d.toFixed(digits));
}

function label(text, x, y, size, extra) {
  const el = svg.append("text")
    .attr("x", x).attr("y", y)
    .attr("font-family", sans).attr("font-size", size).attr("fill", "#111")
    .attr("text-anchor", "middle")
    .text(text);
  if (extra) extra(el);
  return el;
}

function rotated(textBuilder, x, y, size) {
  const el = svg.append("text")
    .attr("transform", `translate(${x},${y}) rotate(-90)`)
    .attr("font-family", sans).attr("font-size", size).attr("fill", "#111")
    .attr("text-anchor", "middle");
  textBuilder(el);
}

drawPanel({ id: "panel-a", left: 70, right: 453, top: 48, bottom: 325, xDomain: [1400, 1700], yDomain: [10, 60], xTicks: frameXTemp300, yTicks: lvlTicks, xDigits: 0, yDigits: 0, points: panelAPoints, color: meltColor });
drawPanel({ id: "panel-b", left: 530, right: 912, top: 48, bottom: 325, xDomain: [-0.5, 2], yDomain: [-2, 0.5], xTicks: frameXMelt, yTicks: ampTicks, xDigits: 1, yDigits: 1, points: panelBPoints, color: tempColor });
drawPanel({ id: "panel-c", left: 70, right: 453, top: 380, bottom: 657, xDomain: [1400, 1650], yDomain: [-5, 3], xTicks: frameXTemp250, yTicks: dvsTicks, xDigits: 0, yDigits: 0, points: panelCPoints, color: meltColor });
drawPanel({ id: "panel-d", left: 530, right: 912, top: 380, bottom: 657, xDomain: [-0.5, 2], yDomain: [-5, 3], xTicks: frameXMelt, yTicks: dvsTicks, xDigits: 1, yDigits: 0, points: panelDPoints, color: tempColor });

drawColorbar({ id: "melt-a", left: 326.7, right: 442, top: 59.5, bottom: 70.5, domain: meltDomain, color: meltColor, ticks: meltBarTicks, digits: 1, labelY: 89 });
drawColorbar({ id: "temp-b", left: 786.3, right: 901.7, top: 59.5, bottom: 70.5, domain: tempDomain, color: tempColor, ticks: tempBarTicks, digits: 0, labelY: 88.5 });
drawColorbar({ id: "melt-c", left: 326.7, right: 442, top: 391.5, bottom: 402.5, domain: meltDomain, color: meltColor, ticks: meltBarTicks, digits: 1, labelY: 421 });
drawColorbar({ id: "temp-d", left: 786.3, right: 901.7, top: 391.5, bottom: 402.5, domain: tempDomain, color: tempColor, ticks: tempBarTicks, digits: 0, labelY: 420.5 });

// arrow goes over panels b and d, frame shows through
const arrowPoints = [[700, 320], [742, 320], [742, 395], [772, 395], [721.5, 446], [670, 395], [700, 395]];
svg.append("path")
  .attr("d", d3.line()(arrowPoints) + "Z")
  .attr("fill", "#d93a40").attr("fill-opacity", 0.78)
  .attr("stroke", "#888").attr("stroke-width", 0.5);

label("Temperature (\u00b0C)", 261, 23, 22);
label("Melt vol%", 719, 22, 22);
label("Temperature (\u00b0C)", 262, 700, 20.5);
label("Melt vol%", 719, 700, 22);
label("Melt vol%", 383, 111, 18.5);
label("Melt vol%", 383, 443, 18.5);
label("Temperature (\u00b0C)", 843, 112, 18);
label("Temperature (\u00b0C)", 843, 443, 18);

rotated(el => el.text("LVL (km)"), 37, 187, 22);
rotated(el => el.text("Amplitude"), 474, 186, 22);
[[28, 519], [488, 519]].forEach(([x, y]) => rotated(el => {
  el.append("tspan").text("Residual");
  el.append("tspan").attr("dx", 7).text("\u0394V");
  el.append("tspan").attr("font-size", 15).attr("dy", 4).text("S");
  el.append("tspan").attr("dy", -4).text("(%)");
}, x, y, 22));

const tagStyle = el => el.attr("font-family", tagFont).attr("font-weight", "bold").attr("fill", "#000").attr("text-anchor", "start");
label("(a)", 83, 90, 30.5, tagStyle);
label("(b)", 542, 88, 30.5, tagStyle);
label("(c)", 82, 426, 30.5, tagStyle);
label("(d)", 541, 417, 30.5, tagStyle);
</script>
</body>
</html>
